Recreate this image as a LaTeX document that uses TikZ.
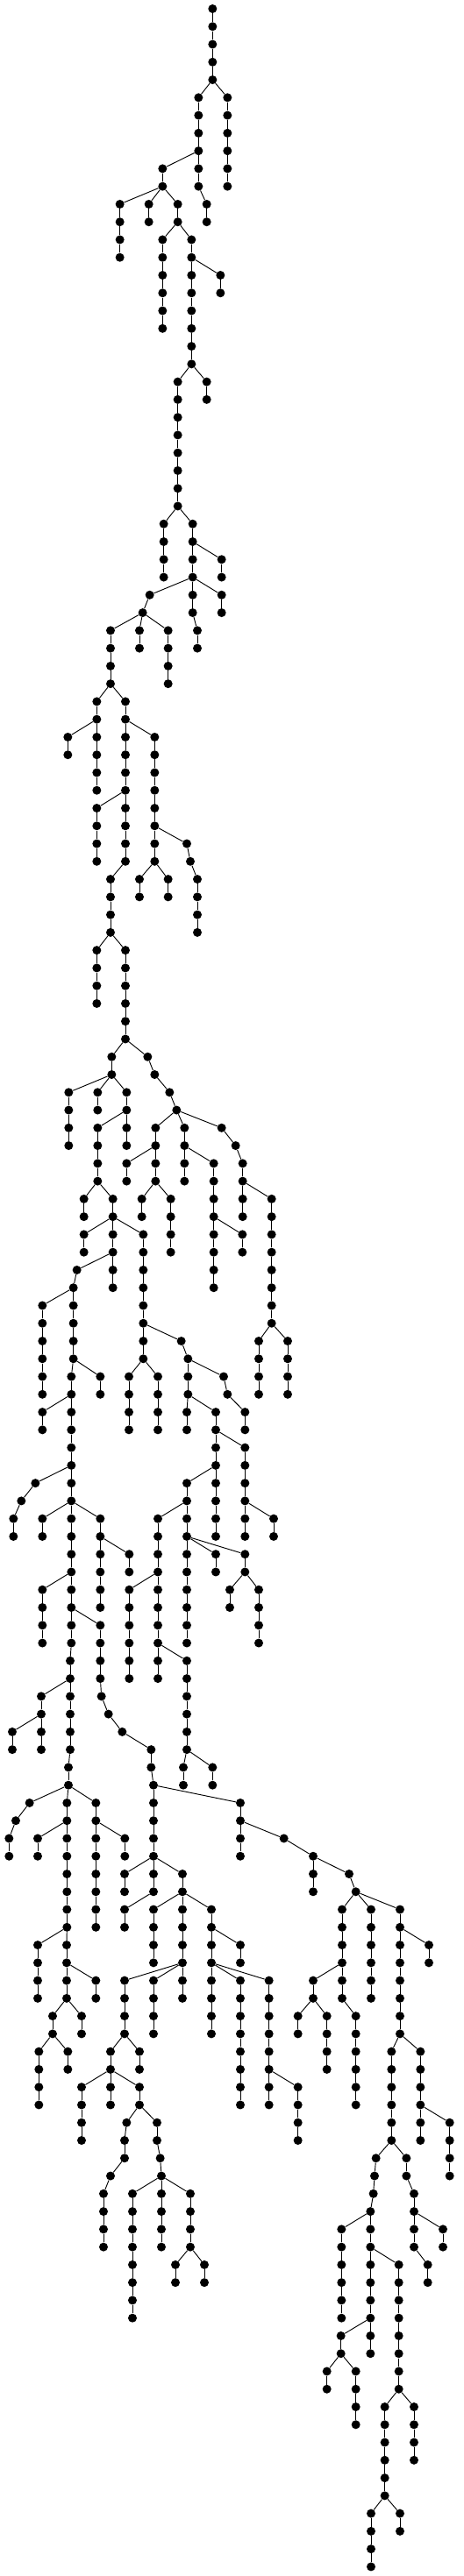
\documentclass[tikz,border=0pt]{standalone}

\tikzset{
  dot/.style={circle, fill=black, inner sep=0pt, minimum size=7.5pt},
  edge/.style={line width=0.7pt}
}

% a vertical run of dots: name, x, first level, last level
\newcommand{\chain}[4]{%
  \foreach \lv in {#3,...,#4}
    \node[dot] (#1-\lv) at (#2, {-30-60.8*\lv}) {};
  \ifnum#3<#4\relax
    \pgfmathtruncatemacro{\chainnext}{#3+1}%
    \foreach \lv [remember=\lv as \pv (initially #3)] in {\chainnext,...,#4}
      \draw[edge] (#1-\pv) -- (#1-\lv);
  \fi}

\begin{document}
\begin{tikzpicture}[x=0.25pt, y=0.25pt]
  \useasboundingbox (0,0) rectangle (1584,-8817);

  % top part
  \chain{c1}{727}{0}{4}
  \chain{c2}{778}{5}{10}
  \chain{c3}{679}{5}{10}
  \chain{c4}{707}{11}{12}
  \chain{c5}{556}{9}{10}
  \chain{c6}{410}{11}{14}
  \chain{c7}{509}{11}{12}
  \chain{c8}{608}{11}{12}
  \chain{c9}{556}{13}{18}
  \chain{c10}{655}{13}{20}
  \chain{c11}{754}{15}{16}
  \chain{c12}{707}{21}{22}
  \chain{c13}{608}{21}{28}
  \chain{c14}{560}{29}{32}
  \chain{c15}{659}{29}{34}
  \chain{c16}{758}{31}{32}
  \chain{c17}{758}{33}{34}
  \chain{c18}{675}{35}{36}
  \chain{c19}{512}{33}{33}
  \chain{c20}{488}{34}{34}
  \chain{c21}{378}{35}{38}
  \chain{c22}{477}{35}{36}
  \chain{c23}{575}{35}{38}
  \chain{c24}{331}{39}{44}
  \chain{c25}{232}{41}{42}
  \chain{c26}{429}{39}{48}
  \chain{c27}{529}{41}{48}
  \chain{c28}{639}{47}{47}
  \chain{c29}{651}{48}{48}
  \chain{c30}{675}{49}{52}
  \chain{c31}{331}{45}{48}
  \chain{c32}{378}{49}{52}
  \chain{c33}{477}{49}{50}
  \chain{c34}{575}{49}{50}
  \chain{c35}{331}{53}{56}
  \chain{c36}{429}{53}{58}
  \chain{c37}{382}{59}{60}
  \chain{c38}{505}{59}{59}
  \chain{c39}{529}{60}{60}

  % middle part
  \chain{c40}{235}{61}{64}
  \chain{c41}{334}{61}{62}
  \chain{c42}{433}{61}{64}
  \chain{c43}{334}{63}{66}
  \chain{c44}{287}{67}{68}
  \chain{c45}{386}{67}{72}
  \chain{c46}{287}{69}{70}
  \chain{c47}{490}{69}{76}
  \chain{c48}{263}{71}{71}
  \chain{c49}{251}{72}{76}
  \chain{c50}{145}{73}{78}
  \chain{c51}{343}{77}{78}
  \chain{c52}{244}{77}{84}
  \chain{c53}{145}{79}{80}
  \chain{c54}{121}{83}{83}
  \chain{c55}{73}{84}{84}
  \chain{c56}{46}{85}{86}
  \chain{c57}{145}{85}{86}
  \chain{c58}{244}{85}{92}
  \chain{c59}{240}{93}{98}
  \chain{c60}{234}{99}{100}
  \chain{c61}{229}{101}{108}
  \chain{c62}{145}{89}{92}
  \chain{c63}{343}{91}{94}
  \chain{c64}{347}{95}{95}
  \chain{c65}{371}{96}{96}
  \chain{c66}{418}{97}{97}
  \chain{c67}{517}{98}{99}
  \chain{c68}{525}{100}{106}
  \chain{c69}{141}{95}{98}
  \chain{c70}{42}{97}{98}
  \chain{c71}{343}{85}{90}
  \chain{c72}{442}{87}{88}
  \chain{c73}{441}{77}{80}
  \chain{c74}{540}{77}{80}
  \chain{c75}{620}{75}{75}
  \chain{c76}{643}{76}{78}
  \chain{c77}{765}{77}{77}
  \chain{c78}{778}{78}{78}
  \chain{c79}{838}{79}{80}
  \chain{c80}{639}{79}{80}
  \chain{c81}{738}{79}{86}
  \chain{c82}{838}{81}{86}
  \chain{c83}{936}{85}{86}
  \chain{c84}{639}{83}{92}
  \chain{c85}{540}{85}{94}
  \chain{c86}{738}{87}{88}
  \chain{c87}{838}{87}{88}
  \chain{c88}{786}{89}{90}
  \chain{c89}{885}{89}{92}
  \chain{c90}{442}{89}{94}
  \chain{c91}{639}{93}{98}
  \chain{c92}{627}{99}{100}
  \chain{c93}{727}{99}{100}
  \chain{c94}{580}{61}{61}
  \chain{c95}{604}{62}{62}
  \chain{c96}{532}{63}{66}
  \chain{c97}{433}{65}{66}
  \chain{c98}{485}{67}{68}
  \chain{c99}{584}{67}{70}
  \chain{c100}{631}{63}{66}
  \chain{c101}{731}{65}{72}
  \chain{c102}{829}{69}{70}
  \chain{c103}{758}{63}{63}
  \chain{c104}{806}{64}{64}
  \chain{c105}{830}{65}{68}
  \chain{c106}{929}{67}{74}
  \chain{c107}{885}{75}{78}
  \chain{c108}{984}{75}{78}

  % lower part
  \chain{c109}{101}{101}{101}
  \chain{c110}{328}{101}{108}
  \chain{c111}{54}{102}{102}
  \chain{c112}{31}{103}{104}
  \chain{c113}{129}{103}{104}
  \chain{c114}{427}{103}{104}
  \chain{c115}{129}{109}{112}
  \chain{c116}{228}{109}{112}
  \chain{c117}{328}{111}{112}
  \chain{c118}{180}{113}{114}
  \chain{c119}{279}{113}{114}
  \chain{c120}{133}{115}{118}
  \chain{c121}{232}{115}{116}
  \chain{c122}{822}{101}{104}
  \chain{c123}{426}{105}{106}
  \chain{c124}{624}{105}{112}
  \chain{c125}{426}{107}{108}
  \chain{c126}{971}{103}{103}
  \chain{c127}{1071}{104}{106}
  \chain{c128}{1194}{105}{105}
  \chain{c129}{1217}{106}{106}
  \chain{c130}{1170}{107}{112}
  \chain{c131}{1269}{107}{112}
  \chain{c132}{1368}{107}{114}
  \chain{c133}{1467}{109}{110}
  \chain{c134}{1071}{111}{112}
  \chain{c135}{1019}{113}{114}
  \chain{c136}{1118}{113}{116}
  \chain{c137}{1217}{113}{118}
  \chain{c138}{1339}{115}{120}
  \chain{c139}{1438}{115}{120}
  \chain{c140}{1538}{119}{122}
  \chain{c141}{525}{107}{110}
  \chain{c142}{723}{107}{114}
  \chain{c143}{822}{109}{110}
  \chain{c144}{822}{111}{118}
  \chain{c145}{920}{111}{118}
  \chain{c146}{1019}{117}{120}
  \chain{c147}{426}{111}{114}
  \chain{c148}{525}{111}{114}
  \chain{c149}{378}{115}{118}
  \chain{c150}{477}{115}{116}
  \chain{c151}{279}{117}{120}
  \chain{c152}{477}{117}{118}
  \chain{c153}{433}{119}{119}
  \chain{c154}{426}{120}{121}
  \chain{c155}{378}{122}{122}
  \chain{c156}{354}{123}{126}
  \chain{c157}{537}{119}{120}
  \chain{c158}{548}{121}{121}
  \chain{c159}{552}{122}{126}
  \chain{c160}{453}{123}{130}
  \chain{c161}{651}{123}{126}
  \chain{c162}{600}{127}{128}
  \chain{c163}{699}{127}{128}
  \chain{c164}{1286}{121}{121}
  \chain{c165}{1281}{122}{122}
  \chain{c166}{1277}{123}{123}
  \chain{c167}{1267}{124}{132}
  \chain{c168}{1168}{125}{130}
  \chain{c169}{1166}{131}{132}
  \chain{c170}{1118}{133}{134}
  \chain{c171}{1217}{133}{136}
  \chain{c172}{1364}{127}{134}
  \chain{c173}{1316}{135}{140}
  \chain{c174}{1416}{135}{138}
  \chain{c175}{1269}{141}{144}
  \chain{c176}{1368}{141}{142}
  \chain{c177}{1390}{121}{122}
  \chain{c179}{1416}{123}{126}
  \chain{c180}{1515}{125}{126}
  \chain{c181}{1463}{127}{128}

  % branches
  \draw[edge] (c1-4) -- (c2-5);
  \draw[edge] (c1-4) -- (c3-5);
  \draw[edge] (c3-8) -- (c5-9);
  \draw[edge] (c3-10) -- (c4-11);
  \draw[edge] (c5-10) -- (c6-11);
  \draw[edge] (c5-10) -- (c7-11);
  \draw[edge] (c5-10) -- (c8-11);
  \draw[edge] (c8-12) -- (c9-13);
  \draw[edge] (c8-12) -- (c10-13);
  \draw[edge] (c10-14) -- (c11-15);
  \draw[edge] (c10-20) -- (c12-21);
  \draw[edge] (c10-20) -- (c13-21);
  \draw[edge] (c13-28) -- (c14-29);
  \draw[edge] (c13-28) -- (c15-29);
  \draw[edge] (c15-30) -- (c16-31);
  \draw[edge] (c15-32) -- (c19-33);
  \draw[edge] (c15-32) -- (c17-33);
  \draw[edge] (c15-34) -- (c18-35);
  \draw[edge] (c19-33) -- (c20-34);
  \draw[edge] (c20-34) -- (c21-35);
  \draw[edge] (c20-34) -- (c22-35);
  \draw[edge] (c20-34) -- (c23-35);
  \draw[edge] (c21-38) -- (c24-39);
  \draw[edge] (c21-38) -- (c26-39);
  \draw[edge] (c24-40) -- (c25-41);
  \draw[edge] (c26-40) -- (c27-41);
  \draw[edge] (c26-44) -- (c31-45);
  \draw[edge] (c27-46) -- (c28-47);
  \draw[edge] (c28-47) -- (c29-48);
  \draw[edge] (c29-48) -- (c30-49);
  \draw[edge] (c26-48) -- (c32-49);
  \draw[edge] (c27-48) -- (c33-49);
  \draw[edge] (c27-48) -- (c34-49);
  \draw[edge] (c32-52) -- (c35-53);
  \draw[edge] (c32-52) -- (c36-53);
  \draw[edge] (c36-58) -- (c37-59);
  \draw[edge] (c36-58) -- (c38-59);
  \draw[edge] (c38-59) -- (c39-60);
  \draw[edge] (c37-60) -- (c40-61);
  \draw[edge] (c37-60) -- (c41-61);
  \draw[edge] (c37-60) -- (c42-61);
  \draw[edge] (c42-62) -- (c43-63);
  \draw[edge] (c43-66) -- (c44-67);
  \draw[edge] (c43-66) -- (c45-67);
  \draw[edge] (c45-68) -- (c46-69);
  \draw[edge] (c45-68) -- (c47-69);
  \draw[edge] (c45-70) -- (c48-71);
  \draw[edge] (c48-71) -- (c49-72);
  \draw[edge] (c49-72) -- (c50-73);
  \draw[edge] (c49-76) -- (c51-77);
  \draw[edge] (c49-76) -- (c52-77);
  \draw[edge] (c52-78) -- (c53-79);
  \draw[edge] (c52-82) -- (c54-83);
  \draw[edge] (c54-83) -- (c55-84);
  \draw[edge] (c55-84) -- (c56-85);
  \draw[edge] (c52-84) -- (c57-85);
  \draw[edge] (c52-84) -- (c58-85);
  \draw[edge] (c52-84) -- (c71-85);
  \draw[edge] (c58-88) -- (c62-89);
  \draw[edge] (c58-90) -- (c63-91);
  \draw[edge] (c58-92) -- (c59-93);
  \draw[edge] (c59-94) -- (c69-95);
  \draw[edge] (c69-96) -- (c70-97);
  \draw[edge] (c59-98) -- (c60-99);
  \draw[edge] (c60-100) -- (c109-101);
  \draw[edge] (c60-100) -- (c61-101);
  \draw[edge] (c60-100) -- (c110-101);
  \draw[edge] (c63-94) -- (c64-95);
  \draw[edge] (c64-95) -- (c65-96);
  \draw[edge] (c65-96) -- (c66-97);
  \draw[edge] (c66-97) -- (c67-98);
  \draw[edge] (c67-99) -- (c68-100);
  \draw[edge] (c71-86) -- (c72-87);
  \draw[edge] (c47-74) -- (c75-75);
  \draw[edge] (c47-76) -- (c73-77);
  \draw[edge] (c47-76) -- (c74-77);
  \draw[edge] (c75-75) -- (c76-76);
  \draw[edge] (c76-76) -- (c77-77);
  \draw[edge] (c77-77) -- (c78-78);
  \draw[edge] (c78-78) -- (c79-79);
  \draw[edge] (c76-78) -- (c80-79);
  \draw[edge] (c76-78) -- (c81-79);
  \draw[edge] (c81-80) -- (c82-81);
  \draw[edge] (c81-82) -- (c84-83);
  \draw[edge] (c82-84) -- (c83-85);
  \draw[edge] (c84-84) -- (c85-85);
  \draw[edge] (c84-86) -- (c86-87);
  \draw[edge] (c84-86) -- (c87-87);
  \draw[edge] (c87-88) -- (c88-89);
  \draw[edge] (c87-88) -- (c89-89);
  \draw[edge] (c85-88) -- (c90-89);
  \draw[edge] (c85-92) -- (c91-93);
  \draw[edge] (c91-98) -- (c92-99);
  \draw[edge] (c91-98) -- (c93-99);
  \draw[edge] (c39-60) -- (c94-61);
  \draw[edge] (c94-61) -- (c95-62);
  \draw[edge] (c95-62) -- (c96-63);
  \draw[edge] (c95-62) -- (c100-63);
  \draw[edge] (c95-62) -- (c103-63);
  \draw[edge] (c96-64) -- (c97-65);
  \draw[edge] (c96-66) -- (c98-67);
  \draw[edge] (c96-66) -- (c99-67);
  \draw[edge] (c100-64) -- (c101-65);
  \draw[edge] (c101-68) -- (c102-69);
  \draw[edge] (c103-63) -- (c104-64);
  \draw[edge] (c104-64) -- (c105-65);
  \draw[edge] (c105-66) -- (c106-67);
  \draw[edge] (c106-74) -- (c107-75);
  \draw[edge] (c106-74) -- (c108-75);
  \draw[edge] (c109-101) -- (c111-102);
  \draw[edge] (c111-102) -- (c112-103);
  \draw[edge] (c61-102) -- (c113-103);
  \draw[edge] (c110-102) -- (c114-103);
  \draw[edge] (c61-108) -- (c115-109);
  \draw[edge] (c61-108) -- (c116-109);
  \draw[edge] (c116-110) -- (c117-111);
  \draw[edge] (c116-112) -- (c118-113);
  \draw[edge] (c116-112) -- (c119-113);
  \draw[edge] (c118-114) -- (c120-115);
  \draw[edge] (c118-114) -- (c121-115);
  \draw[edge] (c68-100) -- (c122-101);
  \draw[edge] (c68-104) -- (c123-105);
  \draw[edge] (c68-104) -- (c124-105);
  \draw[edge] (c68-106) -- (c125-107);
  \draw[edge] (c122-102) -- (c126-103);
  \draw[edge] (c126-103) -- (c127-104);
  \draw[edge] (c127-104) -- (c128-105);
  \draw[edge] (c128-105) -- (c129-106);
  \draw[edge] (c129-106) -- (c130-107);
  \draw[edge] (c129-106) -- (c131-107);
  \draw[edge] (c129-106) -- (c132-107);
  \draw[edge] (c132-108) -- (c133-109);
  \draw[edge] (c130-110) -- (c134-111);
  \draw[edge] (c134-112) -- (c135-113);
  \draw[edge] (c134-112) -- (c136-113);
  \draw[edge] (c130-112) -- (c137-113);
  \draw[edge] (c132-114) -- (c138-115);
  \draw[edge] (c132-114) -- (c139-115);
  \draw[edge] (c139-118) -- (c140-119);
  \draw[edge] (c124-106) -- (c141-107);
  \draw[edge] (c124-106) -- (c142-107);
  \draw[edge] (c142-108) -- (c143-109);
  \draw[edge] (c142-110) -- (c144-111);
  \draw[edge] (c142-110) -- (c145-111);
  \draw[edge] (c145-116) -- (c146-117);
  \draw[edge] (c124-110) -- (c147-111);
  \draw[edge] (c124-110) -- (c148-111);
  \draw[edge] (c147-114) -- (c149-115);
  \draw[edge] (c147-114) -- (c150-115);
  \draw[edge] (c149-116) -- (c151-117);
  \draw[edge] (c149-116) -- (c152-117);
  \draw[edge] (c152-118) -- (c153-119);
  \draw[edge] (c152-118) -- (c157-119);
  \draw[edge] (c153-119) -- (c154-120);
  \draw[edge] (c154-121) -- (c155-122);
  \draw[edge] (c155-122) -- (c156-123);
  \draw[edge] (c157-120) -- (c158-121);
  \draw[edge] (c158-121) -- (c159-122);
  \draw[edge] (c159-122) -- (c160-123);
  \draw[edge] (c159-122) -- (c161-123);
  \draw[edge] (c161-126) -- (c162-127);
  \draw[edge] (c161-126) -- (c163-127);
  \draw[edge] (c138-120) -- (c164-121);
  \draw[edge] (c138-120) -- (c177-121);
  \draw[edge] (c164-121) -- (c165-122);
  \draw[edge] (c165-122) -- (c166-123);
  \draw[edge] (c166-123) -- (c167-124);
  \draw[edge] (c167-124) -- (c168-125);
  \draw[edge] (c167-126) -- (c172-127);
  \draw[edge] (c167-130) -- (c169-131);
  \draw[edge] (c169-132) -- (c170-133);
  \draw[edge] (c169-132) -- (c171-133);
  \draw[edge] (c172-134) -- (c173-135);
  \draw[edge] (c172-134) -- (c174-135);
  \draw[edge] (c173-140) -- (c175-141);
  \draw[edge] (c173-140) -- (c176-141);
  \draw[edge] (c177-122) -- (c179-123);
  \draw[edge] (c179-124) -- (c180-125);
  \draw[edge] (c179-126) -- (c181-127);
\end{tikzpicture}
\end{document}
